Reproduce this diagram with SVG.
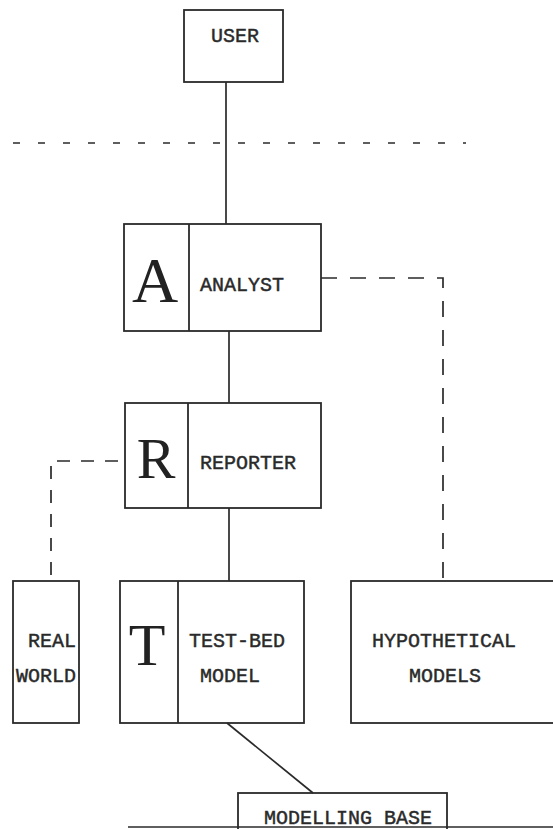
<svg xmlns="http://www.w3.org/2000/svg" width="553" height="829" viewBox="0 0 553 829">
  <style>
    .box { fill: none; stroke: #2a2a2a; stroke-width: 1.8; }
    .link { fill: none; stroke: #2a2a2a; stroke-width: 1.7; }
    .dash-a { stroke-dasharray: 7 18; }
    .dash-b { stroke-dasharray: 16 13; }
    .dash-c { stroke-dasharray: 13 11; }
    .label { font-family: "Liberation Mono", "DejaVu Sans Mono", monospace; font-size: 20px; fill: #2a2a2a; stroke: #2a2a2a; stroke-width: 0.45; text-anchor: middle; }
    .initial { font-family: "Liberation Serif", "DejaVu Serif", serif; fill: #222; text-anchor: middle; }
  </style>
  <rect width="553" height="829" fill="#ffffff"/>

  <g id="connectors">
    <!-- boundary line -->
    <line class="link dash-a" x1="13" y1="143" x2="466" y2="143"/>
    <!-- solid links -->
    <line class="link" x1="226" y1="82" x2="226" y2="224"/>
    <line class="link" x1="229" y1="331" x2="229" y2="403"/>
    <line class="link" x1="229" y1="508" x2="229" y2="581"/>
    <line class="link" x1="227" y1="723" x2="313" y2="793"/>
    <!-- dashed links -->
    <polyline class="link dash-b" points="321,278 443,278 443,581"/>
    <polyline class="link dash-c" points="118,461 51,461 51,576"/>
    <!-- base line -->
    <line class="link" x1="128" y1="827" x2="553" y2="827"/>
  </g>

  <g id="user">
    <rect class="box" x="184" y="10" width="99" height="72"/>
    <text class="label" x="235" y="42">USER</text>
  </g>

  <g id="analyst">
    <rect class="box" x="124" y="224" width="197" height="107"/>
    <line class="box" x1="189" y1="224" x2="189" y2="331"/>
    <text class="initial" x="155" y="302" font-size="64">A</text>
    <text class="label" x="242" y="291">ANALYST</text>
  </g>

  <g id="reporter">
    <rect class="box" x="125" y="403" width="196" height="105"/>
    <line class="box" x1="188" y1="403" x2="188" y2="508"/>
    <text class="initial" x="156" y="478" font-size="58">R</text>
    <text class="label" x="248" y="469">REPORTER</text>
  </g>

  <g id="real-world">
    <rect class="box" x="13" y="581" width="66" height="142"/>
    <text class="label" x="52" y="647">REAL</text>
    <text class="label" x="46" y="682">WORLD</text>
  </g>

  <g id="test-bed-model">
    <rect class="box" x="120" y="581" width="184" height="142"/>
    <line class="box" x1="178" y1="581" x2="178" y2="723"/>
    <text class="initial" x="147" y="665" font-size="60">T</text>
    <text class="label" x="237" y="647">TEST-BED</text>
    <text class="label" x="230" y="682">MODEL</text>
  </g>

  <g id="hypothetical-models">
    <rect class="box" x="351" y="581" width="215" height="142"/>
    <text class="label" x="444" y="647">HYPOTHETICAL</text>
    <text class="label" x="445" y="682">MODELS</text>
  </g>

  <g id="modelling-base">
    <rect class="box" x="238" y="793" width="209" height="50"/>
    <text class="label" x="348" y="824">MODELLING BASE</text>
  </g>
</svg>
